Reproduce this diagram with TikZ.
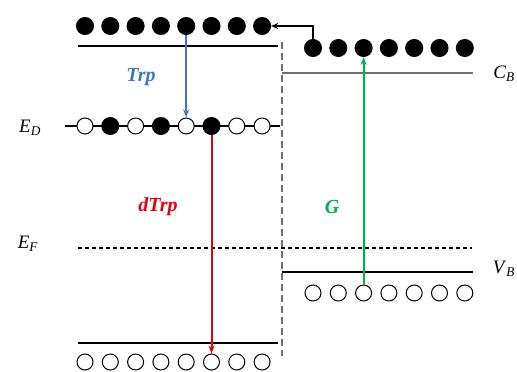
\documentclass[tikz,border=0pt]{standalone}
\usepackage{fontspec}
\setmainfont{Liberation Serif}
\usetikzlibrary{arrows.meta}
\definecolor{trpblue}{HTML}{4472C4}
\definecolor{dtrpred}{HTML}{E3000F}
\definecolor{gapgreen}{HTML}{00B050}
\definecolor{bandgray}{HTML}{707070}
\tikzset{
  fullDot/.style={circle, draw=black, fill=black, minimum size=17pt, inner sep=0pt, line width=1pt},
  emptyDot/.style={circle, draw=black, fill=white, minimum size=16pt, inner sep=0pt, line width=1pt},
  bandLine/.style={line width=1.5pt},
  levelLabel/.style={font=\fontsize{19}{21}\selectfont, anchor=center},
  moveLabel/.style={font=\fontsize{20}{22}\selectfont\bfseries\itshape, anchor=center},
  moveArrow/.style={-{Stealth[length=8pt,width=6pt]}, line width=2pt}
}
\begin{document}
\begin{tikzpicture}[x=1pt, y=-1pt]
  \useasboundingbox (0,0) rectangle (517,372);

  % left side bands
  \draw[bandLine] (78,46) -- (278,46);
  \draw[bandLine] (78,343) -- (278,343);
  \draw[line width=1.1pt] (65,126) -- (280,126);
  \draw[line width=1.3pt, dash pattern=on 4pt off 3pt] (78,248) -- (472,248);
  \draw[line width=1.1pt, bandgray, dash pattern=on 7pt off 4pt] (282,42) -- (282,356);

  % right side bands
  \draw[line width=1.4pt, bandgray] (282,73) -- (473,73);
  \draw[line width=1.4pt] (282,272) -- (473,272);

  % electrons and holes
  \foreach \i in {1,...,8} {
    \node[fullDot] (top\i) at ({85+25.3*(\i-1)},26) {};
    \node[emptyDot] (bot\i) at ({85+25.3*(\i-1)},362) {};
  }
  \foreach \i/\s in {1/emptyDot,2/fullDot,3/emptyDot,4/fullDot,5/emptyDot,6/fullDot,7/emptyDot,8/emptyDot}
    \node[\s] (ed\i) at ({85+25.3*(\i-1)},126) {};
  \foreach \i in {1,...,7} {
    \node[fullDot] (rtop\i) at ({313+25.3*(\i-1)},48) {};
    \node[emptyDot] (rbot\i) at ({313+25.3*(\i-1)},293) {};
  }

  % labels
  \node[levelLabel] (edlab) at (30,128) {\textit{E}\textsubscript{\textit{D}}};
  \node[levelLabel] (eflab) at (28,244) {\textit{E}\textsubscript{\textit{F}}};
  \node[levelLabel] (cblab) at (504,74) {\textit{C}\textsubscript{\textit{B}}};
  \node[levelLabel] (vblab) at (504,269) {\textit{V}\textsubscript{\textit{B}}};
  \node[moveLabel, trpblue] (trplab) at (141,77) {Trp};
  \node[moveLabel, dtrpred] (dtrplab) at (158,207) {dTrp};
  \node[moveLabel, gapgreen] (glab) at (332,207) {G};

  % transitions
  \draw[moveArrow, trpblue] (top5.south) -- (ed5.north);
  \draw[moveArrow, dtrpred] (ed6.south) -- (bot6.north);
  \draw[moveArrow, gapgreen] (rbot3.north) -- (rtop3.south);
  \draw[-{Stealth[length=7pt,width=6pt]}, line width=1.6pt] (rtop1.north) |- (top8.east);
\end{tikzpicture}
\end{document}
